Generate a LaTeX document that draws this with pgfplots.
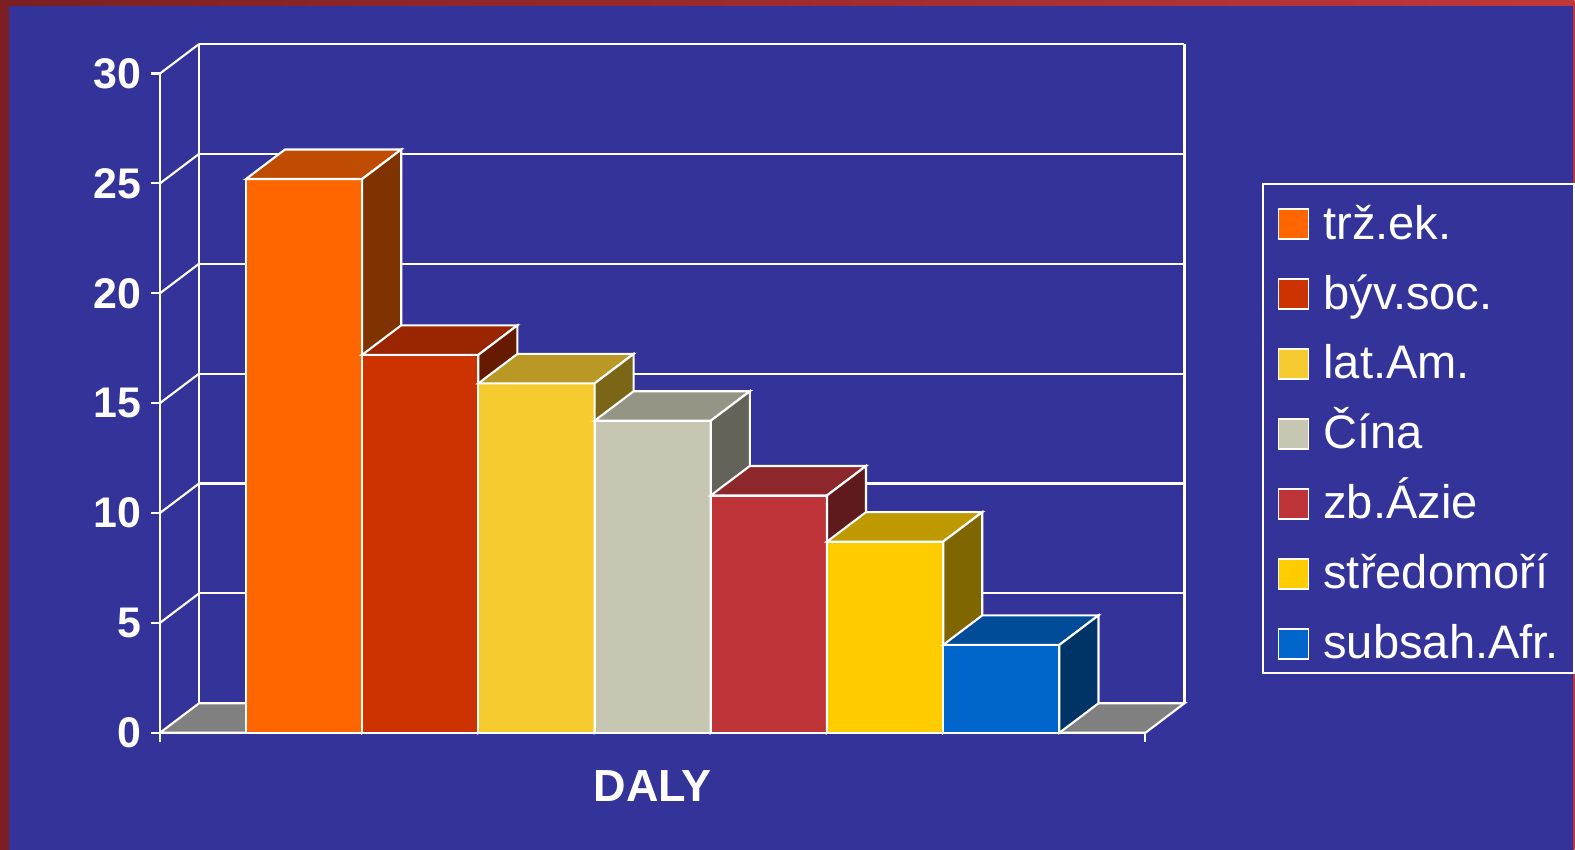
\documentclass[border=0pt]{standalone}
\usepackage{pgfplots}
\pgfplotsset{compat=1.18}
\usepackage{fontspec}
\setmainfont{Liberation Sans}
\setsansfont{Liberation Sans}

\definecolor{bg}{HTML}{333399}
\definecolor{bordL}{HTML}{7B1F22}
\definecolor{bordR}{HTML}{C0383A}
\definecolor{floor}{HTML}{808080}
% front / top / side shades of each bar
\definecolor{aF}{HTML}{FF6600}\definecolor{aT}{HTML}{BF4C00}\definecolor{aS}{HTML}{7F3300}
\definecolor{bF}{HTML}{CC3300}\definecolor{bT}{HTML}{992600}\definecolor{bS}{HTML}{661A00}
\definecolor{cF}{HTML}{F6CB2F}\definecolor{cT}{HTML}{B99826}\definecolor{cS}{HTML}{7B6618}
\definecolor{dF}{HTML}{C7C6B3}\definecolor{dT}{HTML}{959586}\definecolor{dS}{HTML}{63635A}
\definecolor{eF}{HTML}{BE3438}\definecolor{eT}{HTML}{8E272B}\definecolor{eS}{HTML}{5F1A1D}
\definecolor{fF}{HTML}{FFCC00}\definecolor{fT}{HTML}{BF9900}\definecolor{fS}{HTML}{806600}
\definecolor{gF}{HTML}{0066CC}\definecolor{gT}{HTML}{004C99}\definecolor{gS}{HTML}{003366}

\begin{document}
\begin{tikzpicture}
% slide background (origin = data point (0,0), 1px = 0.1mm)
\shade[left color=bordL, right color=bordR] (-16mm,73.3mm) rectangle (141.5mm,-11.7mm);
\fill[bg] (-15.1mm,72.7mm) rectangle (141.35mm,-11.7mm);

\begin{axis}[
    at={(0,0)}, anchor=origin,
    x=11.624mm, y=2.198mm,
    xmin=0, xmax=8.48, ymin=0, ymax=30,
    clip=false,
    axis x line*=bottom, axis y line*=left,
    axis line style={white, line width=0.6pt, -},
    every tick/.style={white, line width=0.6pt},
    tick align=outside, major tick length=0.9mm,
    xtick={0,8.48}, xticklabels={{},{}},
    ytick={0,5,...,30},
    /pgf/number format/assume math mode=true,
    yticklabel style={text=white, xshift=0.3mm, font=\fontsize{12.2}{14}\selectfont\bfseries},
    xlabel={DALY},
    xlabel style={at={(axis description cs:0.5,0)}, anchor=center, yshift=-5.3mm,
        text=white, font=\fontsize{12.8}{15}\selectfont\bfseries},
    face/.style={draw=white, line width=0.6pt, mark=none, forget plot},
    legend image code/.code={\draw[#1] (0mm,-2.05mm) rectangle (3mm,0.95mm);},
    legend cell align=left,
    legend style={at={(axis cs:9.48,25.02)}, anchor=north west,
        draw=white, line width=0.6pt, fill=none, text=white,
        font=\fontsize{13.4}{15}\selectfont,
        inner xsep=1.5mm, inner ysep=1mm, row sep=2.1mm, column sep=1.4mm,
        nodes={inner sep=0pt, text height=4.5mm, text depth=0.4mm}},
]
% back wall
\draw[white, line width=0.6pt] (axis cs:0.336,1.342) -- (axis cs:0.336,31.342)
    (axis cs:8.816,1.342) -- (axis cs:8.816,31.342);
\pgfplotsinvokeforeach{5,10,15,20,25,30}{
    \draw[white, line width=0.6pt] (axis cs:0.336,#1+1.342) -- (axis cs:8.816,#1+1.342);
    \draw[white, line width=0.6pt] (axis cs:0,#1) -- (axis cs:0.336,#1+1.342);
}
% floor
\fill[floor, draw=white, line width=0.6pt] (axis cs:0,0) -- (axis cs:8.48,0)
    -- (axis cs:8.816,1.342) -- (axis cs:0.336,1.342) -- cycle;

% bars: front, top, side
\addplot[face, fill=aF] coordinates {(0.74,0) (1.74,0) (1.74,25.2) (0.74,25.2)} -- cycle;
\addplot[face, fill=aT] coordinates {(0.74,25.2) (1.74,25.2) (2.076,26.542) (1.076,26.542)} -- cycle;
\addplot[face, fill=aS] coordinates {(1.74,0) (2.076,1.342) (2.076,26.542) (1.74,25.2)} -- cycle;

\addplot[face, fill=bF] coordinates {(1.74,0) (2.74,0) (2.74,17.2) (1.74,17.2)} -- cycle;
\addplot[face, fill=bT] coordinates {(1.74,17.2) (2.74,17.2) (3.076,18.542) (2.076,18.542)} -- cycle;
\addplot[face, fill=bS] coordinates {(2.74,0) (3.076,1.342) (3.076,18.542) (2.74,17.2)} -- cycle;

\addplot[face, fill=cF] coordinates {(2.74,0) (3.74,0) (3.74,15.9) (2.74,15.9)} -- cycle;
\addplot[face, fill=cT] coordinates {(2.74,15.9) (3.74,15.9) (4.076,17.242) (3.076,17.242)} -- cycle;
\addplot[face, fill=cS] coordinates {(3.74,0) (4.076,1.342) (4.076,17.242) (3.74,15.9)} -- cycle;

\addplot[face, fill=dF] coordinates {(3.74,0) (4.74,0) (4.74,14.2) (3.74,14.2)} -- cycle;
\addplot[face, fill=dT] coordinates {(3.74,14.2) (4.74,14.2) (5.076,15.542) (4.076,15.542)} -- cycle;
\addplot[face, fill=dS] coordinates {(4.74,0) (5.076,1.342) (5.076,15.542) (4.74,14.2)} -- cycle;

\addplot[face, fill=eF] coordinates {(4.74,0) (5.74,0) (5.74,10.8) (4.74,10.8)} -- cycle;
\addplot[face, fill=eT] coordinates {(4.74,10.8) (5.74,10.8) (6.076,12.142) (5.076,12.142)} -- cycle;
\addplot[face, fill=eS] coordinates {(5.74,0) (6.076,1.342) (6.076,12.142) (5.74,10.8)} -- cycle;

\addplot[face, fill=fF] coordinates {(5.74,0) (6.74,0) (6.74,8.7) (5.74,8.7)} -- cycle;
\addplot[face, fill=fT] coordinates {(5.74,8.7) (6.74,8.7) (7.076,10.042) (6.076,10.042)} -- cycle;
\addplot[face, fill=fS] coordinates {(6.74,0) (7.076,1.342) (7.076,10.042) (6.74,8.7)} -- cycle;

\addplot[face, fill=gF] coordinates {(6.74,0) (7.74,0) (7.74,4.0) (6.74,4.0)} -- cycle;
\addplot[face, fill=gT] coordinates {(6.74,4.0) (7.74,4.0) (8.076,5.342) (7.076,5.342)} -- cycle;
\addplot[face, fill=gS] coordinates {(7.74,0) (8.076,1.342) (8.076,5.342) (7.74,4.0)} -- cycle;

\addlegendimage{fill=aF, draw=white, line width=0.5pt}\addlegendentry{trž.ek.}
\addlegendimage{fill=bF, draw=white, line width=0.5pt}\addlegendentry{býv.soc.}
\addlegendimage{fill=cF, draw=white, line width=0.5pt}\addlegendentry{lat.Am.}
\addlegendimage{fill=dF, draw=white, line width=0.5pt}\addlegendentry{Čína}
\addlegendimage{fill=eF, draw=white, line width=0.5pt}\addlegendentry{zb.Ázie}
\addlegendimage{fill=fF, draw=white, line width=0.5pt}\addlegendentry{středomoří}
\addlegendimage{fill=gF, draw=white, line width=0.5pt}\addlegendentry{subsah.Afr.}
\end{axis}
\end{tikzpicture}
\end{document}
